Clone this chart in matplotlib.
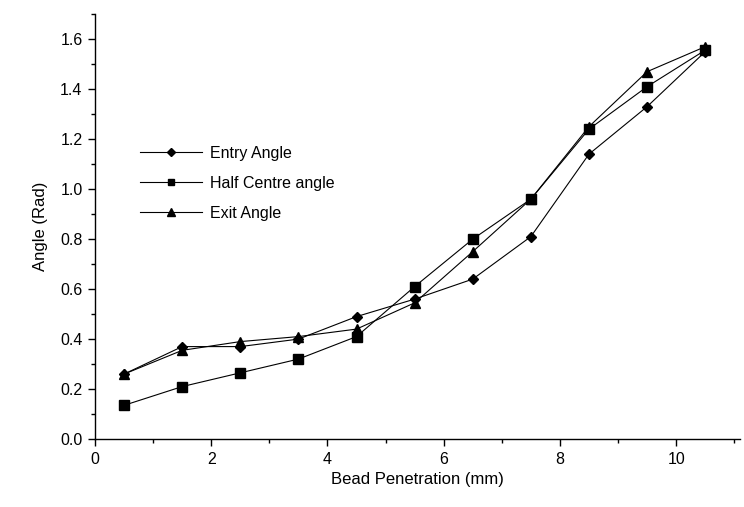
import matplotlib
matplotlib.use("Agg")
import matplotlib.pyplot as plt
from matplotlib.ticker import MultipleLocator

plt.rcParams['font.family'] = ['Liberation Sans', 'DejaVu Sans']

# bead penetration (mm)
x = [0.5, 1.5, 2.5, 3.5, 4.5, 5.5, 6.5, 7.5, 8.5, 9.5, 10.5]

entry_angle = [0.26, 0.37, 0.37, 0.40, 0.49, 0.56, 0.64, 0.81, 1.14, 1.33, 1.55]
half_centre = [0.135, 0.21, 0.265, 0.32, 0.41, 0.61, 0.80, 0.96, 1.24, 1.41, 1.556]
exit_angle = [0.26, 0.355, 0.39, 0.41, 0.44, 0.545, 0.75, 0.96, 1.25, 1.47, 1.57]

labels = ["Entry Angle", "Half Centre angle", "Exit Angle"]

fig = plt.figure(figsize=(7.44, 5.07), dpi=100)
ax = fig.add_axes([0.1277, 0.134, 0.867, 0.838])

ax.plot(x, entry_angle, color='k', lw=0.8, marker='D', markersize=5.5, label=labels[0])
ax.plot(x, half_centre, color='k', lw=0.8, marker='s', markersize=6.5, label=labels[1])
ax.plot(x, exit_angle, color='k', lw=0.8, marker='^', markersize=7.5, label=labels[2])

ax.set_xlim(0, 11.1)
ax.set_ylim(0, 1.7)
ax.xaxis.set_major_locator(MultipleLocator(2))
ax.xaxis.set_minor_locator(MultipleLocator(1))
ax.yaxis.set_major_locator(MultipleLocator(0.2))
ax.yaxis.set_minor_locator(MultipleLocator(0.1))
ax.yaxis.set_major_formatter(matplotlib.ticker.FormatStrFormatter('%.1f'))

ax.spines['top'].set_visible(False)
ax.spines['right'].set_visible(False)
for s in ['left', 'bottom']:
    ax.spines[s].set_linewidth(1.0)

ax.tick_params(which='major', direction='out', length=5, width=1, labelsize=11.5, pad=4)
ax.tick_params(which='minor', direction='out', length=3, width=1)

ax.set_xlabel("Bead Penetration (mm)", fontsize=12, labelpad=4)
ax.set_ylabel("Angle (Rad)", fontsize=12, labelpad=9)

leg = ax.legend(loc='center left', bbox_to_anchor=(0.07, 0.602), frameon=False,
                fontsize=11.5, handlelength=3.9, handletextpad=0.5, labelspacing=0.95,
                borderpad=0, borderaxespad=0, markerscale=0.75)

plt.savefig('out.png', dpi=100)
